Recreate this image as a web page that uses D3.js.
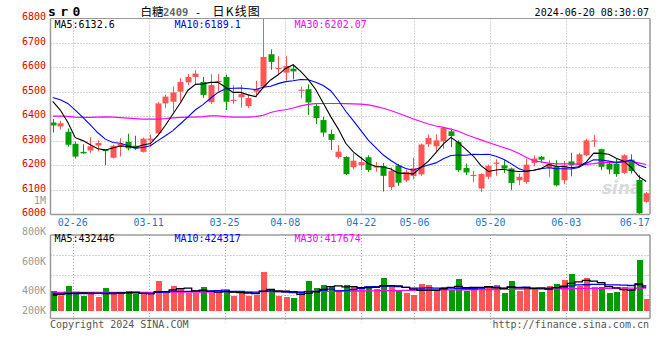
<!DOCTYPE html>
<html><head><meta charset="utf-8">
<script src="https://cdn.jsdelivr.net/npm/d3@7"></script>
<style>
body{margin:0;background:#fff}
svg{display:block}
text{font-family:"DejaVu Sans Mono",monospace}
</style>
</head><body>
<svg id="c" width="660" height="360"></svg>
<script>
// ---------- data ----------
const symbol = "sr0";
const titleName = "白糖";
const titleCode = "2409";
const titleDash = "-";
const titleKind = "日K线图";
const stamp = "2024-06-20 08:30:07";

const open = [6374,6358,6336,6287,6254,6260,6280,6262,6230,6276,
6295,6279,6254,6301,6330,6452,6459,6500,6538,6560,
6540,6457,6540,6560,6463,6477,6441,6500,6520,6653,
6593,6578,6594,6505,6510,6442,6384,6327,6233,6233,
6191,6200,6232,6191,6196,6110,6198,6137,6155,6162,
6285,6277,6297,6338,6295,6188,6157,6104,6152,6207,
6199,6186,6138,6131,6209,6234,6188,6195,6138,6215,
6199,6240,6297,6265,6206,6206,6168,6222,6139,6050];
const close = [6362,6371,6283,6235,6248,6277,6290,6258,6279,6287,
6268,6268,6308,6308,6452,6480,6497,6540,6560,6574,
6487,6527,6544,6459,6467,6490,6474,6511,6642,6622,
6597,6605,6583,6508,6456,6392,6333,6303,6255,6163,
6218,6212,6180,6195,6156,6177,6128,6172,6187,6284,
6311,6301,6352,6319,6179,6170,6160,6163,6197,6210,
6186,6127,6152,6202,6227,6222,6206,6117,6199,6199,
6244,6301,6301,6193,6182,6163,6240,6176,6003,6085];
const high = [6388,6381,6350,6295,6285,6314,6302,6263,6283,6310,
6328,6320,6312,6325,6458,6487,6521,6555,6572,6588,
6560,6572,6572,6570,6526,6527,6490,6545,6800,6673,
6645,6646,6610,6520,6530,6452,6398,6345,6282,6236,
6248,6235,6240,6212,6208,6190,6205,6182,6230,6288,
6325,6326,6356,6349,6301,6206,6177,6167,6202,6224,
6220,6190,6165,6226,6240,6237,6220,6220,6217,6250,
6250,6308,6322,6267,6213,6227,6244,6244,6160,6090];
const low = [6333,6346,6276,6227,6246,6250,6256,6200,6227,6235,
6260,6262,6251,6275,6325,6433,6418,6460,6527,6530,
6475,6450,6500,6425,6450,6435,6432,6477,6513,6590,
6572,6545,6550,6473,6405,6368,6316,6262,6226,6160,
6183,6180,6172,6173,6092,6098,6115,6131,6142,6156,
6274,6256,6267,6274,6172,6159,6131,6090,6142,6156,
6168,6097,6118,6124,6195,6210,6152,6113,6122,6154,
6190,6236,6274,6179,6163,6152,6163,6165,5990,6046];

const ma5 = [6460,6425,6375,6312,6300,6283,6267,6262,6270,6278,
6276,6272,6282,6288,6321,6363,6409,6455,6506,6530,
6532,6538,6538,6518,6497,6497,6487,6480,6517,6548,
6569,6595,6610,6583,6550,6509,6454,6398,6348,6289,
6254,6230,6206,6194,6192,6184,6167,6166,6164,6190,
6216,6251,6287,6313,6292,6264,6236,6198,6174,6180,
6183,6177,6174,6175,6179,6186,6202,6195,6194,6189,
6193,6212,6249,6248,6244,6228,6216,6191,6153,6133];
const ma10 = [6476,6467,6452,6425,6395,6364,6332,6306,6292,6289,
6280,6269,6272,6279,6300,6320,6341,6369,6397,6426,
6447,6473,6497,6512,6514,6515,6512,6509,6518,6522,
6533,6541,6545,6550,6549,6539,6525,6504,6465,6420,
6382,6342,6302,6271,6241,6219,6199,6186,6179,6191,
6200,6209,6226,6239,6241,6240,6244,6243,6244,6236,
6224,6206,6186,6175,6179,6185,6189,6185,6185,6184,
6190,6207,6222,6221,6216,6211,6214,6220,6200,6189];
const ma30 = [6400,6400,6399,6396,6395,6395,6396,6397,6396,6394,
6392,6390,6388,6388,6388,6390,6393,6395,6396,6396,
6398,6401,6401,6398,6396,6396,6396,6398,6404,6415,
6422,6426,6433,6442,6448,6451,6452,6452,6452,6451,
6450,6449,6446,6440,6432,6423,6412,6401,6388,6378,
6368,6360,6354,6347,6338,6325,6314,6303,6292,6282,
6272,6262,6248,6232,6218,6213,6208,6205,6205,6205,
6204,6203,6206,6210,6210,6211,6213,6215,6209,6202];

// volume in thousands
const vol = [397,347,432,374,347,374,340,418,380,364,
397,364,364,364,467,397,432,409,380,374,
423,380,374,405,347,400,347,357,528,409,
347,340,330,387,467,418,438,432,405,438,
423,409,432,409,486,432,405,377,357,445,
438,400,423,405,479,397,413,423,423,438,
377,465,397,423,416,387,432,445,472,512,
432,486,423,423,377,387,423,409,607,317];
const vma5 = [357,360,372,375,379,375,373,371,372,375,
380,385,374,371,391,391,405,414,417,398,
404,393,386,391,386,381,375,371,396,408,
398,396,391,363,374,388,408,428,432,426,
427,421,421,422,432,434,433,422,411,403,
404,403,413,422,429,421,423,423,427,419,
415,425,420,420,416,418,411,421,430,450,
459,469,465,455,428,419,407,404,441,432];
const vma10 = [372,370,372,372,370,372,374,376,375,377,
378,379,373,372,383,386,395,394,394,395,
398,399,400,404,392,393,384,379,394,397,
390,386,381,380,391,393,402,410,398,400,
408,415,425,427,429,431,427,422,417,418,
419,418,418,417,416,413,413,418,425,424,
418,424,422,424,418,417,418,421,425,433,
439,440,443,443,439,439,438,435,448,424];
const vma30 = [384,384,385,385,384,384,383,383,383,383,
383,382,382,382,383,384,385,385,386,386,
387,387,387,388,388,388,388,388,390,391,
391,391,391,391,392,392,393,394,395,395,
396,397,398,399,400,401,401,402,402,403,
404,404,405,405,406,406,407,407,408,408,
409,409,410,410,411,411,412,412,413,414,
414,415,415,416,416,416,417,417,418,418];

const priceTicks = [6000,6100,6200,6300,6400,6500,6600,6700,6800];
const volTicks = [200,400,600,800];
const dateTickLabels = ["02-26","03-11","03-25","04-08","04-22","05-06","05-20","06-03","06-17"];
const dateTickDay = [3,13,23,31,41,48,58,68,77]; // trading-day number counted from 02-21
const maLabels = ["MA5:6132.6","MA10:6189.1","MA30:6202.07"];
const vmaLabels = ["MA5:432446","MA10:424317","MA30:417674"];

// ---------- drawing ----------
const RED = "#ff5555", GREEN = "#009c00", GRID = "#a8a8a8", FRAME = "#999";
const svg = d3.select("#c");
const N = close.length;
const L = 50.5, R = 650, T = 18.5, B = 214;
const VT = 235, VB = 318.5;

const x = d3.scaleBand().domain(d3.range(N)).range([49, 650]);
const cx = i => x(i) + x.bandwidth() / 2;
const dayX = d3.scaleLinear().domain([0, 78]).range([49.9, 642.3]);
const y = d3.scaleLinear().domain([6000, 6800]).range([214, 18.3]);
const yv = d3.scaleLinear().domain([200, 400, 600, 800]).range([310.7, 290.7, 261, 231]);

// clip paths
const defs = svg.append("defs");
defs.append("clipPath").attr("id","cm").append("rect").attr("x",L+0.5).attr("y",T).attr("width",R-L-0.5).attr("height",B-T);
defs.append("clipPath").attr("id","cv").append("rect").attr("x",L+0.5).attr("y",VT).attr("width",R-L-0.5).attr("height",VB-VT);

// header
svg.append("text").attr("x",48).attr("y",16).attr("font-size",13).attr("font-weight","bold")
  .attr("letter-spacing",4.4).text(symbol);
const cjk = "'Noto Sans CJK SC',sans-serif";
svg.append("text").attr("x",140.5).attr("y",15.5).attr("font-size",11.5).style("font-family",cjk).attr("fill","#000").text(titleName);
svg.append("text").attr("x",163).attr("y",15.5).attr("font-size",10.5).attr("font-weight","bold").attr("fill","#666").text(titleCode);
svg.append("text").attr("x",198).attr("y",15.5).attr("font-size",11).attr("text-anchor","middle").attr("fill","#000").text(titleDash);
svg.append("text").attr("x",212.5).attr("y",15.5).attr("font-size",12).attr("letter-spacing",1.2).style("font-family",cjk).attr("fill","#000").text(titleKind);
svg.append("text").attr("x",649).attr("y",15.5).attr("text-anchor","end").attr("font-size",10).attr("fill","#000").text(stamp);

// main grid
const gm = svg.append("g");
gm.selectAll(".hg").data(priceTicks.filter(p => p > 6000 && p < 6800)).join("line")
  .attr("x1",L).attr("x2",R).attr("y1",d=>Math.round(y(d))+0.5).attr("y2",d=>Math.round(y(d))+0.5)
  .attr("stroke",GRID).attr("stroke-dasharray","1,2");
gm.selectAll(".vg").data(dateTickDay.slice(0,-1)).join("line")
  .attr("x1",d=>Math.round(dayX(d))+0.5).attr("x2",d=>Math.round(dayX(d))+0.5).attr("y1",T).attr("y2",B)
  .attr("stroke",GRID).attr("stroke-dasharray","1,2");

// price labels
svg.selectAll(".pl").data(priceTicks).join("text")
  .attr("x",46).attr("y",d=>y(d)+2).attr("text-anchor","end").attr("font-size",10).attr("fill","#e00000").text(d=>d);
svg.append("text").attr("x",46).attr("y",y(6000)-10).attr("text-anchor","end").attr("font-size",10).attr("fill","#999").text("1M");

// sina watermark
svg.append("text").attr("x",602).attr("y",194).attr("font-size",17).attr("font-style","italic").attr("font-weight","bold")
  .attr("fill","#dadada").style("font-family","'DejaVu Sans',sans-serif").text("sina");

// candles
const gc = svg.append("g").attr("clip-path","url(#cm)");
const col = i => close[i] >= open[i] ? RED : GREEN;
gc.selectAll(".wk").data(d3.range(N)).join("line")
  .attr("x1",i=>Math.round(cx(i))+0.5).attr("x2",i=>Math.round(cx(i))+0.5)
  .attr("y1",i=>y(high[i])).attr("y2",i=>y(low[i])).attr("stroke",col).attr("stroke-width",1);
gc.selectAll(".bd").data(d3.range(N)).join("rect")
  .attr("x",i=>Math.round(cx(i))-2.5).attr("width",6)
  .attr("y",i=>y(Math.max(open[i],close[i])))
  .attr("height",i=>Math.max(1.2, Math.abs(y(open[i])-y(close[i]))))
  .attr("fill",col);

// MA lines (main)
const lineP = d3.line().x((d,i)=>cx(i)).y(d=>y(d));
[[ma30,"#ff00ff"],[ma10,"#0000ff"],[ma5,"#000"]].forEach(([arr,c])=>{
  gc.append("path").attr("d",lineP(arr)).attr("fill","none").attr("stroke",c).attr("stroke-width",1.1);
});

// main frame
svg.append("line").attr("x1",L).attr("x2",R).attr("y1",T).attr("y2",T).attr("stroke",FRAME);
svg.append("line").attr("x1",R).attr("x2",R).attr("y1",T).attr("y2",B).attr("stroke",FRAME).attr("stroke-width",1.5);
svg.append("line").attr("x1",L).attr("x2",L).attr("y1",T).attr("y2",B+0.5).attr("stroke",FRAME).attr("stroke-width",1.5);
svg.append("line").attr("x1",L).attr("x2",R).attr("y1",B+0.5).attr("y2",B+0.5).attr("stroke",FRAME).attr("stroke-width",1.5);

// MA texts
const maColors = ["#000","#0000ff","#ff00ff"];
const maX = [54.5,174.5,294.5];
svg.selectAll(".mt").data(maLabels).join("text").attr("x",(d,i)=>maX[i]).attr("y",27.5)
  .attr("font-size",10).attr("fill",(d,i)=>maColors[i]).text(d=>d);

// date labels
svg.selectAll(".dl").data(dateTickLabels).join("text")
  .attr("x",(d,i)=>dayX(dateTickDay[i])).attr("y",225.5).attr("text-anchor","middle")
  .attr("font-size",10).attr("fill","#1a78d0").text(d=>d);

// volume panel grid
const gv = svg.append("g");
gv.selectAll(".vh").data([1,2,3]).join("line")
  .attr("x1",L).attr("x2",R).attr("y1",k=>VT+20*k+0.5).attr("y2",k=>VT+20*k+0.5)
  .attr("stroke",GRID).attr("stroke-dasharray","1,2");
gv.selectAll(".vv").data(dateTickDay.slice(0,-1)).join("line")
  .attr("x1",d=>Math.round(dayX(d))+0.5).attr("x2",d=>Math.round(dayX(d))+0.5).attr("y1",VT).attr("y2",VB+4)
  .attr("stroke",GRID).attr("stroke-dasharray","1,2");

svg.selectAll(".vl").data(volTicks).join("text")
  .attr("x",46).attr("y",d=>yv(d)+3.5).attr("text-anchor","end").attr("font-size",10).attr("fill","#999").text(d=>d+"K");

// volume bars
const gb = svg.append("g").attr("clip-path","url(#cv)");
gb.selectAll(".vb").data(d3.range(N)).join("rect")
  .attr("x",i=>Math.round(cx(i))-2.5).attr("width",6)
  .attr("y",i=>yv(vol[i])).attr("height",i=>yv(200)-yv(vol[i]))
  .attr("fill",col).attr("shape-rendering","crispEdges");

const lineV = d3.line().x((d,i)=>cx(i)).y(d=>yv(d)).curve(d3.curveStep);
[[vma30,"#ff00ff"],[vma10,"#0000ff"],[vma5,"#000"]].forEach(([arr,c])=>{
  gb.append("path").attr("d",lineV(arr)).attr("fill","none").attr("stroke",c).attr("stroke-width",1.3);
});

// volume frame
svg.append("line").attr("x1",L).attr("x2",R).attr("y1",VT).attr("y2",VT).attr("stroke",FRAME).attr("stroke-width",1.5);
svg.append("line").attr("x1",R).attr("x2",R).attr("y1",VT).attr("y2",VB).attr("stroke",FRAME).attr("stroke-width",1.5);
svg.append("line").attr("x1",L).attr("x2",L).attr("y1",VT).attr("y2",VB).attr("stroke",FRAME).attr("stroke-width",1.5);
svg.append("line").attr("x1",L).attr("x2",R).attr("y1",VB).attr("y2",VB).attr("stroke",FRAME).attr("stroke-width",1.5);

svg.selectAll(".vmt").data(vmaLabels).join("text").attr("x",(d,i)=>maX[i]).attr("y",242)
  .attr("font-size",10).attr("fill",(d,i)=>maColors[i]).text(d=>d);

// footer
svg.append("text").attr("x",50).attr("y",327.5).attr("font-size",10).attr("fill","#555").text("Copyright 2024 SINA.COM");
svg.append("text").attr("x",649).attr("y",327.5).attr("text-anchor","end").attr("font-size",10).attr("fill","#555").text("http://finance.sina.com.cn");
</script>
</body></html>
